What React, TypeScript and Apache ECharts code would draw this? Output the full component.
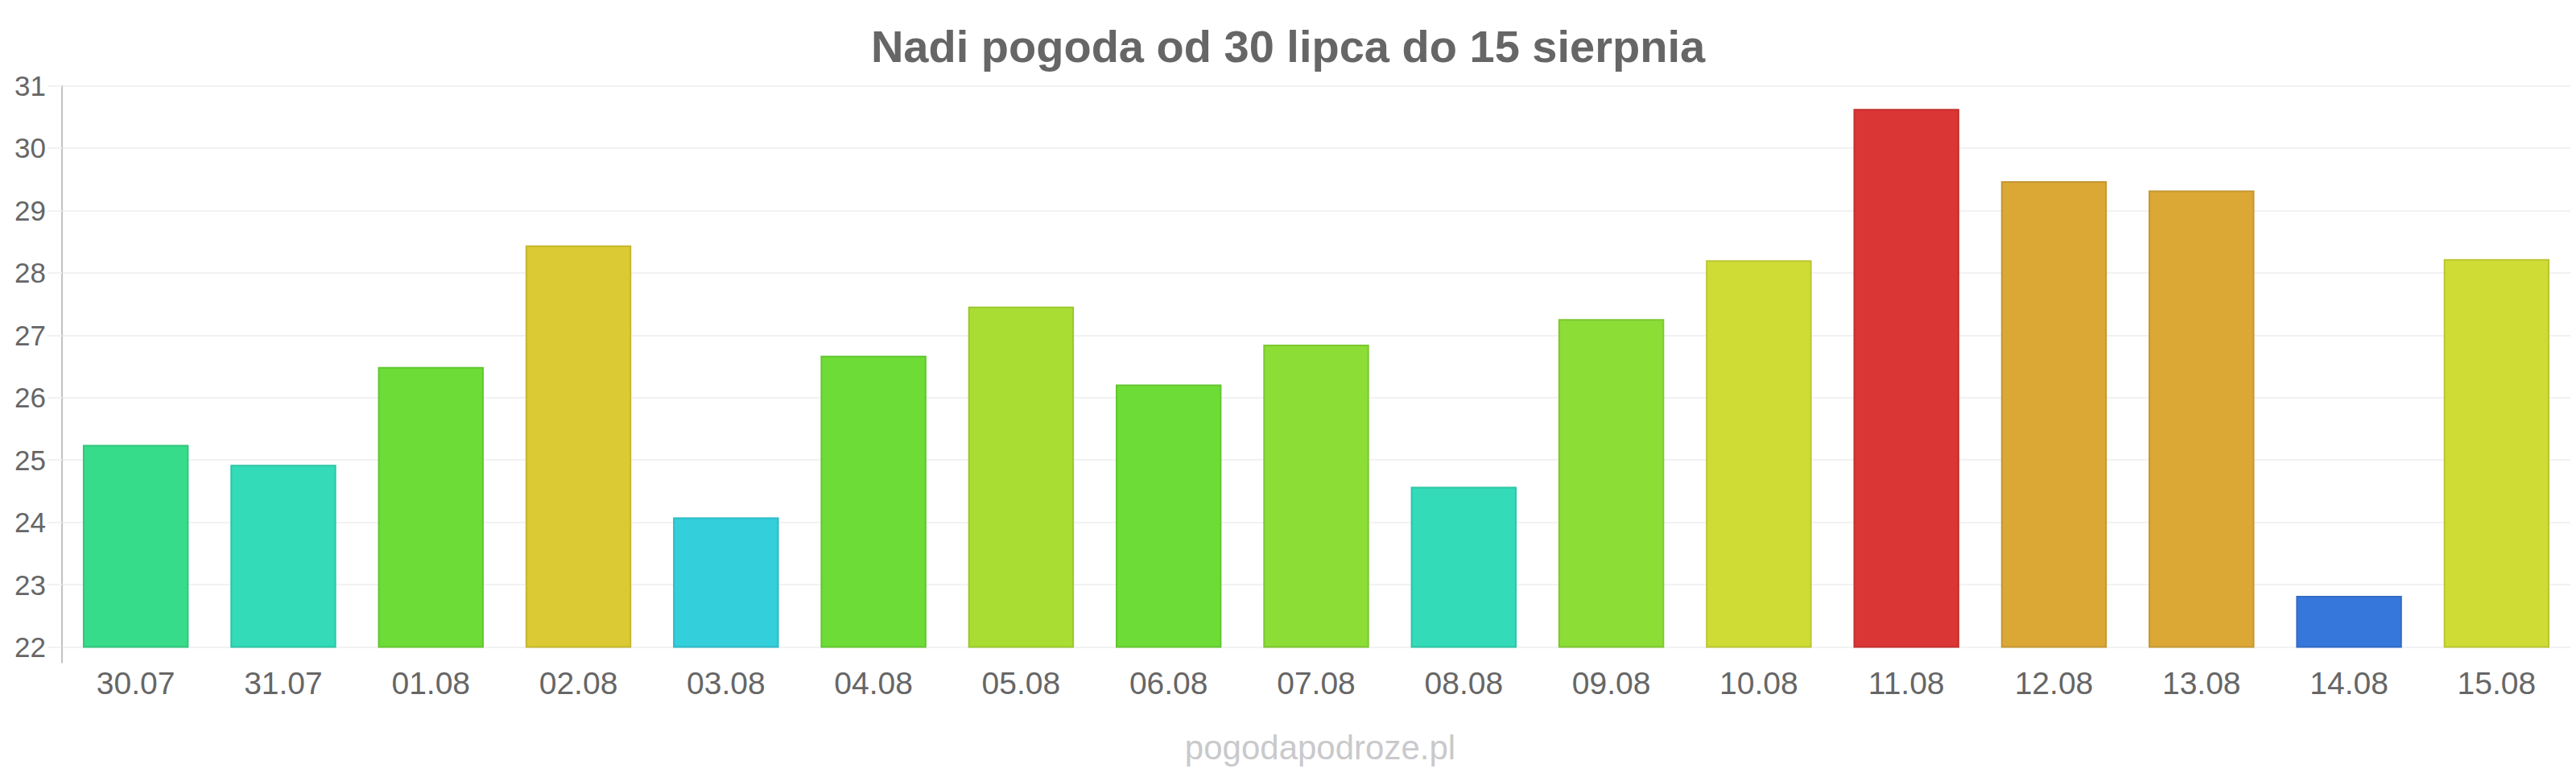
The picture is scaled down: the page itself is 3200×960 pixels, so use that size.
import React, { useEffect, useRef } from "react";
import * as echarts from "echarts";

const titleText = "Nadi pogoda od 30 lipca do 15 sierpnia";
const watermark = "pogodapodroze.pl";
const categories = [
  "30.07", "31.07", "01.08", "02.08", "03.08", "04.08", "05.08", "06.08", "07.08",
  "08.08", "09.08", "10.08", "11.08", "12.08", "13.08", "14.08", "15.08",
];
const temperatures = [
  25.24, 24.92, 26.49, 28.44, 24.08, 26.67, 27.46, 26.21, 26.85,
  24.57, 27.26, 28.2, 30.63, 29.47, 29.32, 22.82, 28.22,
];
const barColors = [
  "#36dc8a", "#33dbb8", "#6ddc36", "#dbca33", "#33cfdb", "#6ddc36", "#aadd33", "#6ddc36", "#8cdd36",
  "#33dbb8", "#8cdd36", "#cfdc36", "#db3636", "#dba836", "#dba836", "#3677db", "#cfdc36",
];
const yMin = 22;
const yMax = 31;
const yStep = 1;
const edgeTickCats = ["start", "end"];

function darken(hex: string, f: number): string {
  const n = parseInt(hex.slice(1), 16);
  const r = Math.round(((n >> 16) & 255) * f);
  const g = Math.round(((n >> 8) & 255) * f);
  const b = Math.round((n & 255) * f);
  return "#" + [r, g, b].map((v) => v.toString(16).padStart(2, "0")).join("");
}

const FONT = "'Liberation Sans', Arial, sans-serif";

export default function App() {
  const ref = useRef<HTMLDivElement>(null);
  useEffect(() => {
    if (!ref.current) return;
    const chart = echarts.init(ref.current, null, { renderer: "svg" });
    chart.setOption({
      animation: false,
      backgroundColor: "#ffffff",
      title: [
        {
          text: titleText,
          left: "center",
          top: 24,
          textStyle: { color: "#666666", fontSize: 56, fontWeight: "bold", fontFamily: FONT },
        },
        {
          text: watermark,
          left: 1635,
          textAlign: "center",
          top: 902,
          textStyle: { color: "#c9c9cc", fontSize: 42, fontWeight: "normal", fontFamily: FONT },
        },
      ],
      grid: { left: 77, right: 7, top: 106.5, bottom: 156.5, containLabel: false },
      xAxis: [
        {
          type: "category",
          data: categories,
          axisLine: { show: false },
          axisTick: { show: false },
          axisLabel: { color: "#666666", fontSize: 39, fontFamily: FONT, margin: 25, interval: 0 },
          splitLine: { show: false },
        },
        {
          type: "category",
          data: edgeTickCats,
          position: "bottom",
          boundaryGap: false,
          axisLine: { show: false },
          axisLabel: { show: false },
          axisTick: {
            show: true,
            length: 20,
            interval: (i: number) => i === 0,
            lineStyle: { color: "#c2c2c2", width: 2 },
          },
          splitLine: { show: false },
        },
      ],
      yAxis: {
        type: "value",
        min: yMin,
        max: yMax,
        interval: yStep,
        axisLine: { show: true, lineStyle: { color: "#c2c2c2", width: 2 } },
        axisTick: { show: true, length: 18, lineStyle: { color: "#f2f2f2", width: 2 } },
        axisLabel: { color: "#666666", fontSize: 35, fontFamily: FONT, margin: 20 },
        splitLine: { show: true, lineStyle: { color: "#f2f2f2", width: 2 } },
      },
      series: [
        {
          type: "bar",
          xAxisIndex: 0,
          barWidth: "71.7%",
          data: temperatures.map((v, i) => ({
            value: v,
            itemStyle: {
              color: barColors[i],
              borderColor: darken(barColors[i], 0.9),
              borderWidth: 2,
            },
          })),
        },
      ],
    });
    return () => chart.dispose();
  }, []);
  return (
    <div
      ref={ref}
      style={{ position: "fixed", left: 0, top: 0, width: 3200, height: 960, background: "#fff" }}
    />
  );
}
